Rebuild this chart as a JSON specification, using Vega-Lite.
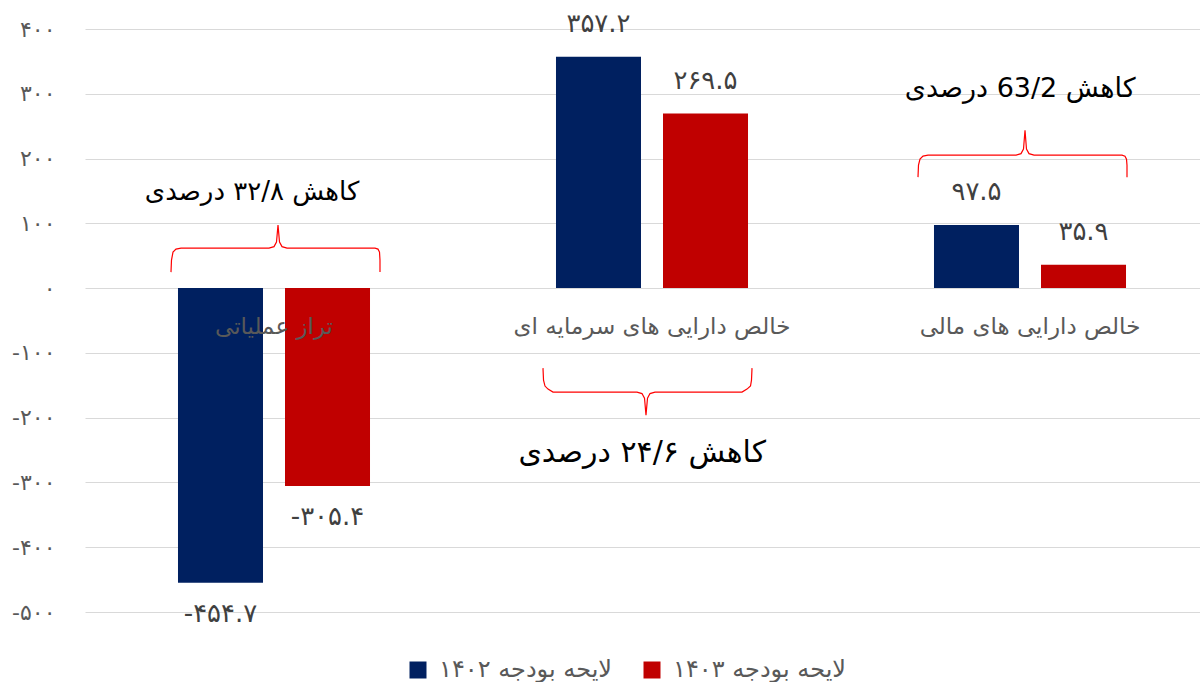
{
  "$schema": "https://vega.github.io/schema/vega-lite/v6.json",
  "autosize": "none",
  "padding": {"left": 85, "top": 29, "right": 0, "bottom": 70},
  "width": 1115,
  "height": 583,
  "background": "white",
  "config": {
    "view": {"stroke": null},
    "font": "DejaVu Sans",
    "axisY": {
      "labelExpr": "replace(replace(replace(replace(replace(replace(replace(replace(replace(replace(toString(datum.value), regexp('0','g'),'۰'), regexp('1','g'),'۱'), regexp('2','g'),'۲'), regexp('3','g'),'۳'), regexp('4','g'),'۴'), regexp('5','g'),'۵'), regexp('6','g'),'۶'), regexp('7','g'),'۷'), regexp('8','g'),'۸'), regexp('9','g'),'۹')",
      "domain": false,
      "ticks": false,
      "grid": true,
      "gridColor": "#d9d9d9",
      "gridWidth": 1,
      "labelColor": "#595959",
      "labelFontSize": 22,
      "labelFont": "DejaVu Sans",
      "labelPadding": 30
    }
  },
  "datasets": {
    "bars": [
      {"cat": "تراز عملیاتی", "s": "لایحه بودجه ۱۴۰۲", "v": -454.7, "lbl": "-۴۵۴.۷"},
      {"cat": "تراز عملیاتی", "s": "لایحه بودجه ۱۴۰۳", "v": -305.4, "lbl": "-۳۰۵.۴"},
      {"cat": "خالص دارایی های سرمایه ای", "s": "لایحه بودجه ۱۴۰۲", "v": 357.2, "lbl": "۳۵۷.۲"},
      {"cat": "خالص دارایی های سرمایه ای", "s": "لایحه بودجه ۱۴۰۳", "v": 269.5, "lbl": "۲۶۹.۵"},
      {"cat": "خالص دارایی های مالی", "s": "لایحه بودجه ۱۴۰۲", "v": 97.5, "lbl": "۹۷.۵"},
      {"cat": "خالص دارایی های مالی", "s": "لایحه بودجه ۱۴۰۳", "v": 35.9, "lbl": "۳۵.۹"}
    ],
    "cats": [
      {"cat": "تراز عملیاتی"},
      {"cat": "خالص دارایی های سرمایه ای"},
      {"cat": "خالص دارایی های مالی"}
    ],
    "notes": [
      {"n": 1, "t": "کاهش ۳۲/۸ درصدی", "u": 0.442, "v": 148},
      {"n": 2, "t": "کاهش ۲۴/۶ درصدی", "u": 1.474, "v": -255},
      {"n": 3, "t": "کاهش 63/2 درصدی", "u": 2.474, "v": 308}
    ],
    "braces": [
      {"b": 1, "i": 1, "u": 0.2275, "v": 24.7},
      {"b": 1, "i": 2, "u": 0.2288, "v": 43.2},
      {"b": 1, "i": 3, "u": 0.2328, "v": 55.6},
      {"b": 1, "i": 4, "u": 0.2407, "v": 60.2},
      {"b": 1, "i": 5, "u": 0.254, "v": 61.7},
      {"b": 1, "i": 6, "u": 0.4868, "v": 61.7},
      {"b": 1, "i": 7, "u": 0.5, "v": 64.0},
      {"b": 1, "i": 8, "u": 0.5066, "v": 71.0},
      {"b": 1, "i": 9, "u": 0.5106, "v": 97.2},
      {"b": 1, "i": 10, "u": 0.5146, "v": 71.0},
      {"b": 1, "i": 11, "u": 0.5212, "v": 64.0},
      {"b": 1, "i": 12, "u": 0.5344, "v": 61.7},
      {"b": 1, "i": 13, "u": 0.7672, "v": 61.7},
      {"b": 1, "i": 14, "u": 0.7751, "v": 60.2},
      {"b": 1, "i": 15, "u": 0.7791, "v": 55.6},
      {"b": 1, "i": 16, "u": 0.7804, "v": 43.2},
      {"b": 1, "i": 17, "u": 0.7804, "v": 24.7},
      {"b": 2, "i": 1, "u": 1.2116, "v": -123.5},
      {"b": 2, "i": 2, "u": 1.213, "v": -142.0},
      {"b": 2, "i": 3, "u": 1.2169, "v": -151.2},
      {"b": 2, "i": 4, "u": 1.2249, "v": -155.9},
      {"b": 2, "i": 5, "u": 1.2381, "v": -160.5},
      {"b": 2, "i": 6, "u": 1.4603, "v": -160.5},
      {"b": 2, "i": 7, "u": 1.4735, "v": -162.8},
      {"b": 2, "i": 8, "u": 1.4802, "v": -169.8},
      {"b": 2, "i": 9, "u": 1.4841, "v": -196.0},
      {"b": 2, "i": 10, "u": 1.4881, "v": -169.8},
      {"b": 2, "i": 11, "u": 1.4947, "v": -162.8},
      {"b": 2, "i": 12, "u": 1.5079, "v": -160.5},
      {"b": 2, "i": 13, "u": 1.7381, "v": -160.5},
      {"b": 2, "i": 14, "u": 1.7513, "v": -155.9},
      {"b": 2, "i": 15, "u": 1.7606, "v": -151.2},
      {"b": 2, "i": 16, "u": 1.7632, "v": -142.0},
      {"b": 2, "i": 17, "u": 1.7646, "v": -123.5},
      {"b": 3, "i": 1, "u": 2.2037, "v": 171.3},
      {"b": 3, "i": 2, "u": 2.205, "v": 189.8},
      {"b": 3, "i": 3, "u": 2.209, "v": 199.1},
      {"b": 3, "i": 4, "u": 2.2169, "v": 203.7},
      {"b": 3, "i": 5, "u": 2.2302, "v": 205.2},
      {"b": 3, "i": 6, "u": 2.463, "v": 205.2},
      {"b": 3, "i": 7, "u": 2.4762, "v": 207.6},
      {"b": 3, "i": 8, "u": 2.4828, "v": 214.5},
      {"b": 3, "i": 9, "u": 2.4868, "v": 243.8},
      {"b": 3, "i": 10, "u": 2.4907, "v": 214.5},
      {"b": 3, "i": 11, "u": 2.4974, "v": 207.6},
      {"b": 3, "i": 12, "u": 2.5106, "v": 205.2},
      {"b": 3, "i": 13, "u": 2.7434, "v": 205.2},
      {"b": 3, "i": 14, "u": 2.7513, "v": 203.7},
      {"b": 3, "i": 15, "u": 2.7553, "v": 199.1},
      {"b": 3, "i": 16, "u": 2.7566, "v": 189.8},
      {"b": 3, "i": 17, "u": 2.7566, "v": 171.3}
    ]
  },
  "layer": [
    {
      "encoding": {
        "x": {
          "field": "cat",
          "type": "nominal",
          "sort": null,
          "scale": {"range": [0, 1134], "paddingInner": 0, "paddingOuter": 0},
          "axis": null
        }
      },
      "layer": [
        {
          "data": {"name": "bars"},
          "mark": {"type": "bar"},
          "encoding": {
            "y": {
              "field": "v",
              "type": "quantitative",
              "scale": {"domain": [-500, 400], "nice": false, "zero": false},
              "axis": {
                "title": null,
                "values": [-500, -400, -300, -200, -100, 0, 100, 200, 300, 400]
              }
            },
            "xOffset": {
              "field": "s",
              "type": "nominal",
              "sort": ["لایحه بودجه ۱۴۰۲", "لایحه بودجه ۱۴۰۳"],
              "scale": {"paddingInner": 0.2056, "paddingOuter": 0.869}
            },
            "color": {
              "field": "s",
              "type": "nominal",
              "sort": ["لایحه بودجه ۱۴۰۲", "لایحه بودجه ۱۴۰۳"],
              "scale": {"domain": ["لایحه بودجه ۱۴۰۲", "لایحه بودجه ۱۴۰۳"], "range": ["#002060", "#C00000"]},
              "legend": {
                "orient": "none",
                "legendX": 321,
                "legendY": 629,
                "direction": "horizontal",
                "title": null,
                "symbolType": "square",
                "symbolSize": 289,
                "symbolStrokeWidth": 0,
                "symbolOpacity": 1,
                "labelFontSize": 24,
                "labelFont": "DejaVu Sans",
                "labelColor": "#595959",
                "labelOffset": 9,
                "labelLimit": 400,
                "columnPadding": 27
              }
            }
          }
        },
        {
          "data": {"name": "bars"},
          "transform": [{"filter": "datum.v >= 0"}],
          "mark": {"type": "text", "dy": -33, "fontSize": 26, "font": "DejaVu Sans", "color": "#404040", "baseline": "middle"},
          "encoding": {
            "y": {"field": "v", "type": "quantitative", "scale": {"domain": [-500, 400], "nice": false, "zero": false}},
            "xOffset": {"field": "s", "type": "nominal", "sort": ["لایحه بودجه ۱۴۰۲", "لایحه بودجه ۱۴۰۳"], "scale": {"paddingInner": 0.2056, "paddingOuter": 0.869}},
            "text": {"field": "lbl"}
          }
        },
        {
          "data": {"name": "bars"},
          "transform": [{"filter": "datum.v < 0"}],
          "mark": {"type": "text", "dy": 31, "fontSize": 26, "font": "DejaVu Sans", "color": "#404040", "baseline": "middle"},
          "encoding": {
            "y": {"field": "v", "type": "quantitative", "scale": {"domain": [-500, 400], "nice": false, "zero": false}},
            "xOffset": {"field": "s", "type": "nominal", "sort": ["لایحه بودجه ۱۴۰۲", "لایحه بودجه ۱۴۰۳"], "scale": {"paddingInner": 0.2056, "paddingOuter": 0.869}},
            "text": {"field": "lbl"}
          }
        },
        {
          "data": {"name": "cats"},
          "mark": {"type": "text", "fontSize": 23, "font": "DejaVu Sans", "color": "#595959", "baseline": "middle"},
          "encoding": {
            "y": {"datum": -60, "type": "quantitative", "scale": {"domain": [-500, 400], "nice": false, "zero": false}},
            "text": {"field": "cat"}
          }
        }
      ]
    },
    {
      "encoding": {
        "x": {
          "field": "u",
          "type": "quantitative",
          "scale": {"domain": [0, 3], "range": [0, 1134], "nice": false, "zero": false},
          "axis": null
        },
        "y": {"field": "v", "type": "quantitative", "scale": {"domain": [-500, 400], "nice": false, "zero": false}}
      },
      "layer": [
        {
          "data": {"name": "braces"},
          "mark": {"type": "line", "color": "#FF0000", "strokeWidth": 1.2, "interpolate": "linear"},
          "encoding": {
            "detail": {"field": "b", "type": "nominal"},
            "order": {"field": "i", "type": "quantitative"}
          }
        },
        {
          "data": {"name": "notes"},
          "transform": [{"filter": "datum.n == 1"}],
          "mark": {"type": "text", "fontSize": 26, "font": "DejaVu Sans", "color": "#000000", "baseline": "middle"},
          "encoding": {"text": {"field": "t"}}
        },
        {
          "data": {"name": "notes"},
          "transform": [{"filter": "datum.n == 2"}],
          "mark": {"type": "text", "fontSize": 30, "font": "DejaVu Sans", "color": "#000000", "baseline": "middle"},
          "encoding": {"text": {"field": "t"}}
        },
        {
          "data": {"name": "notes"},
          "transform": [{"filter": "datum.n == 3"}],
          "mark": {"type": "text", "fontSize": 27, "font": "DejaVu Sans", "color": "#000000", "baseline": "middle"},
          "encoding": {"text": {"field": "t"}}
        }
      ]
    }
  ],
  "resolve": {"scale": {"x": "independent"}, "axis": {"x": "independent"}}
}
